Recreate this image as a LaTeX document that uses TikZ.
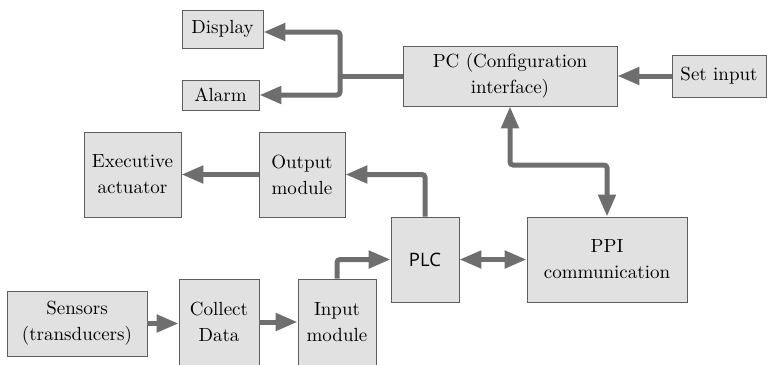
\documentclass[tikz,border=0pt]{standalone}
\usepackage{fontspec}
\newfontfamily\txtfont{lmroman10-regular.otf}
\newfontfamily\plcfont{Open Sans}
\usetikzlibrary{arrows.meta}
\definecolor{boxfill}{HTML}{E1E1E1}
\definecolor{boxline}{HTML}{5E5E5E}
\definecolor{arrowc}{HTML}{6E6E6E}
\begin{document}
\begin{tikzpicture}[x=1pt,y=-1pt,
  blk/.style={draw=boxline, fill=boxfill, line width=0.9pt, inner sep=0pt, align=center,
    font=\txtfont\fontsize{19}{26}\selectfont},
  conn/.style={draw=arrowc, line width=5pt, rounded corners=3pt,
    -{Triangle[length=22pt,width=17pt]}},
  conn2/.style={draw=arrowc, line width=5pt, rounded corners=3pt,
    {Triangle[length=22pt,width=17pt]}-{Triangle[length=22pt,width=17pt]}},
  plain/.style={draw=arrowc, line width=5pt}]
\useasboundingbox (0,0) rectangle (767,364);
% boxes (centre, width, height)
\node[blk, minimum width=81, minimum height=38] (display) at (222.5,29) {Display};
\node[blk, minimum width=77, minimum height=30] (alarm) at (220.5,95) {Alarm};
\node[blk, minimum width=214, minimum height=60] (pc) at (510,76) {PC (Configuration\\interface)};
\node[blk, minimum width=94, minimum height=42] (set) at (719,76) {Set input};
\node[blk, minimum width=97, minimum height=85] (exec) at (132.5,174.5) {Executive\\actuator};
\node[blk, minimum width=86, minimum height=85] (out) at (302,174.5) {Output\\module};
\node[blk, minimum width=68, minimum height=85, font=\plcfont\fontsize{18.5}{22}\selectfont] (plc) at (425,259.5) {PLC};
\node[blk, minimum width=160, minimum height=85] (ppi) at (607,259.5) {PPI\\communication};
\node[blk, minimum width=140, minimum height=65] (sens) at (77,323.5) {Sensors\\(transducers)};
\node[blk, minimum width=80, minimum height=86] (coll) at (219,322) {Collect\\Data};
\node[blk, minimum width=78, minimum height=86] (inp) at (337,322) {Input\\module};
% junctions
\coordinate (j) at (340,76);
\coordinate (m) at (560,165);
% connectors
\draw[plain] (pc.west) -- (j);
\draw[conn] (j) |- ([yshift=-3pt]display.east);
\draw[conn] (j) |- (alarm.east);
\draw[conn] (set.west) -- (pc.east);
\draw[conn] (out.west) -- (exec.east);
\draw[conn] (plc.north) |- (out.east);
\draw[conn] (sens.east) -- (sens.east -| coll.west);
\draw[conn] (coll.east) -- (coll.east -| inp.west);
\draw[conn] (inp.north) |- (plc.west);
\draw[conn2] (plc.east) -- (ppi.west);
\draw[conn2] (pc.south) |- (m) -| (ppi.north);
\end{tikzpicture}
\end{document}
